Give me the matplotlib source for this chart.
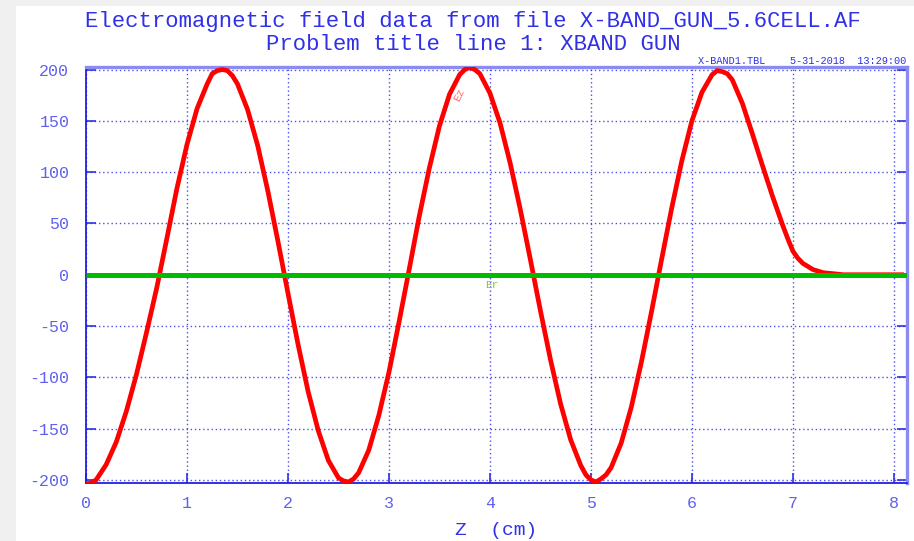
import matplotlib
matplotlib.use("Agg")
import matplotlib.pyplot as plt
from matplotlib.patches import Rectangle

plt.rcParams["axes.unicode_minus"] = False

# Field data (Z in cm, field in MV/m)
z_cm = [0.0, 0.05, 0.1, 0.2, 0.3, 0.4, 0.5, 0.6, 0.7, 0.8, 0.9,
        1.0, 1.1, 1.2, 1.25, 1.3, 1.35, 1.4, 1.45, 1.5, 1.6, 1.7, 1.8, 1.9,
        2.0, 2.1, 2.2, 2.3, 2.4, 2.5, 2.55, 2.6, 2.65, 2.7, 2.8, 2.9,
        3.0, 3.1, 3.2, 3.3, 3.4, 3.5, 3.6, 3.7, 3.75, 3.8, 3.85, 3.9,
        4.0, 4.1, 4.2, 4.3, 4.4, 4.5, 4.6, 4.7, 4.8, 4.9, 4.95,
        5.0, 5.05, 5.1, 5.15, 5.2, 5.3, 5.4, 5.5, 5.6, 5.7, 5.8, 5.9,
        6.0, 6.1, 6.2, 6.25, 6.3, 6.35, 6.4, 6.5, 6.6, 6.7, 6.8, 6.9, 6.95,
        7.0, 7.05, 7.1, 7.15, 7.2, 7.3, 7.4, 7.5, 7.6, 7.7, 7.8, 7.9,
        8.0, 8.1]
ez = [-204, -203, -200, -185, -163, -133, -97, -56, -13, 35, 84,
      127, 162, 186, 196, 199, 200, 199, 194, 186, 161, 126, 82, 33,
      -18, -68, -114, -152, -181, -198, -201, -202, -199, -193, -171, -137,
      -95, -46, 5, 57, 104, 145, 176, 195, 200, 202, 200, 196,
      177, 148, 109, 64, 15, -35, -83, -126, -161, -186, -195,
      -200, -202, -199, -195, -188, -164, -129, -85, -36, 15, 65, 111,
      150, 178, 195, 199, 198, 196, 190, 167, 137, 106, 76, 48, 35,
      23, 16, 11, 8, 5, 2, 1, 0, 0, 0, 0, 0,
      0, 0]
er = [0.0] * len(z_cm)

title1 = "Electromagnetic field data from file X-BAND_GUN_5.6CELL.AF"
title2 = "Problem title line 1: XBAND GUN"
stamp = "X-BAND1.TBL    5-31-2018  13:29:00"

mono = "Liberation Mono"
blue = "#3030e8"
light = "#6060f0"

fig = plt.figure(figsize=(9.14, 5.41), dpi=100, facecolor="#f0f0f0")
# white drawing area, grey strip on left and top like the screenshot
fig.patches.append(Rectangle((16 / 914, 0), 1, 1 - 6 / 541, transform=fig.transFigure,
                             facecolor="white", edgecolor="none", zorder=-5))

ax = fig.add_axes([86 / 914, 1 - 483 / 541, (907 - 86) / 914, (483 - 67) / 541])
ax.set_facecolor("white")

ax.plot(z_cm, ez, color="#ff0000", lw=3.4, zorder=3,
        solid_joinstyle="round", solid_capstyle="butt")
ax.plot(z_cm + [8.13], er + [0.0], color="#00bb00", lw=3.6, zorder=4,
        solid_capstyle="butt")

ax.set_xlim(0, 8.13)
ax.set_ylim(-203, 202.5)
ax.set_xticks(range(0, 9))
ax.set_yticks(range(-200, 201, 50))
ax.grid(True, color=blue, linestyle=(0, (1, 2)), lw=1.0, alpha=0.85)
ax.tick_params(direction="in", length=7, width=1.2, color=blue,
               labelcolor=light, labelsize=12, right=True)
ax.tick_params(axis="y", pad=12)
ax.tick_params(axis="x", pad=9)
for lbl in ax.get_xticklabels() + ax.get_yticklabels():
    lbl.set_family(mono)

for side in ("left", "bottom"):
    ax.spines[side].set_color("#2020e0")
    ax.spines[side].set_linewidth(1.3)
for side in ("top", "right"):
    ax.spines[side].set_color("#8c8cf0")
    ax.spines[side].set_linewidth(2.4)

ax.set_xlabel("Z  (cm)", family=mono, fontsize=14, color=blue, labelpad=8)

ax.text(3.70, 175, "Ez", family=mono, fontsize=8, color="#ff7070",
        rotation=65, ha="center", va="center")
ax.text(4.02, -10, "Er", family=mono, fontsize=8, color="#80cc20",
        ha="center", va="center")

fig.text(473 / 914, 1 - 22 / 541, title1, family=mono, fontsize=16,
         color=blue, ha="center", va="center")
fig.text(473 / 914, 1 - 44 / 541, title2, family=mono, fontsize=16,
         color=blue, ha="center", va="center")
fig.text(906 / 914, 1 - 61 / 541, stamp, family=mono, fontsize=7.4,
         color=blue, ha="right", va="center")

fig.savefig("out.png", dpi=100, facecolor=fig.get_facecolor())
